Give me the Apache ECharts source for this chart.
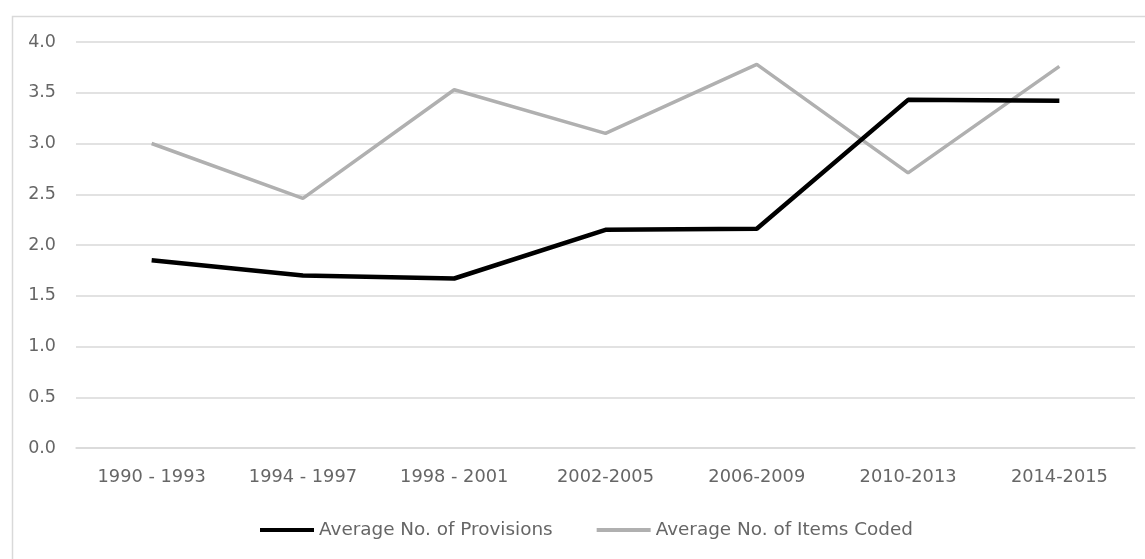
<!DOCTYPE html>
<html>
<head>
<meta charset="utf-8">
<script src="https://cdn.jsdelivr.net/npm/echarts@6/dist/echarts.min.js"></script>
<style>html,body{margin:0;padding:0;background:#fff;}#c{width:1145px;height:559px;}</style>
</head>
<body>
<div id="c"></div>
<script>
const categories = ['1990 - 1993','1994 - 1997','1998 - 2001','2002-2005','2006-2009','2010-2013','2014-2015'];
const provisions = [1.85, 1.70, 1.67, 2.15, 2.16, 3.43, 3.42];
const itemsCoded = [3.00, 2.46, 3.53, 3.10, 3.78, 2.71, 3.76];
const seriesNames = ['Average No. of Provisions', 'Average No. of Items Coded'];

const font = 'DejaVu Sans';
const chart = echarts.init(document.getElementById('c'), null, {renderer: 'canvas'});
chart.setOption({
  animation: false,
  backgroundColor: '#fff',
  graphic: [{
    type: 'rect', left: 10, top: 14,
    shape: {width: 1150, height: 560},
    style: {fill: 'none', stroke: '#d9d9d9', lineWidth: 1.5}
  }],
  grid: {left: 76, right: 10, top: 42, bottom: 111},
  legend: {
    left: 255, top: 516,
    itemWidth: 54, itemHeight: 4, itemGap: 44,
    icon: 'rect',
    textStyle: {fontFamily: font, fontSize: 18.4, color: '#666'},
    data: seriesNames
  },
  xAxis: {
    type: 'category', data: categories, boundaryGap: true,
    axisLine: {show: true, lineStyle: {color: '#d9d9d9', width: 1.5}},
    axisTick: {show: false},
    axisLabel: {fontFamily: font, fontSize: 17.8, color: '#666', margin: 20, interval: 0}
  },
  yAxis: {
    type: 'value', min: 0, max: 4, interval: 0.5,
    axisLine: {show: false}, axisTick: {show: false},
    splitLine: {lineStyle: {color: '#d9d9d9', width: 1.5}},
    axisLabel: {fontFamily: font, fontSize: 17.5, color: '#666', margin: 20,
      formatter: v => v.toFixed(1)}
  },
  series: [
    {name: seriesNames[0], type: 'line', data: provisions, showSymbol: false, symbol: 'none',
     lineStyle: {color: '#000', width: 4.5}, itemStyle: {color: '#000'}, z: 3},
    {name: seriesNames[1], type: 'line', data: itemsCoded, showSymbol: false, symbol: 'none',
     lineStyle: {color: '#b0b0b0', width: 3.5}, itemStyle: {color: '#b0b0b0'}, z: 2}
  ]
});
</script>
</body>
</html>
